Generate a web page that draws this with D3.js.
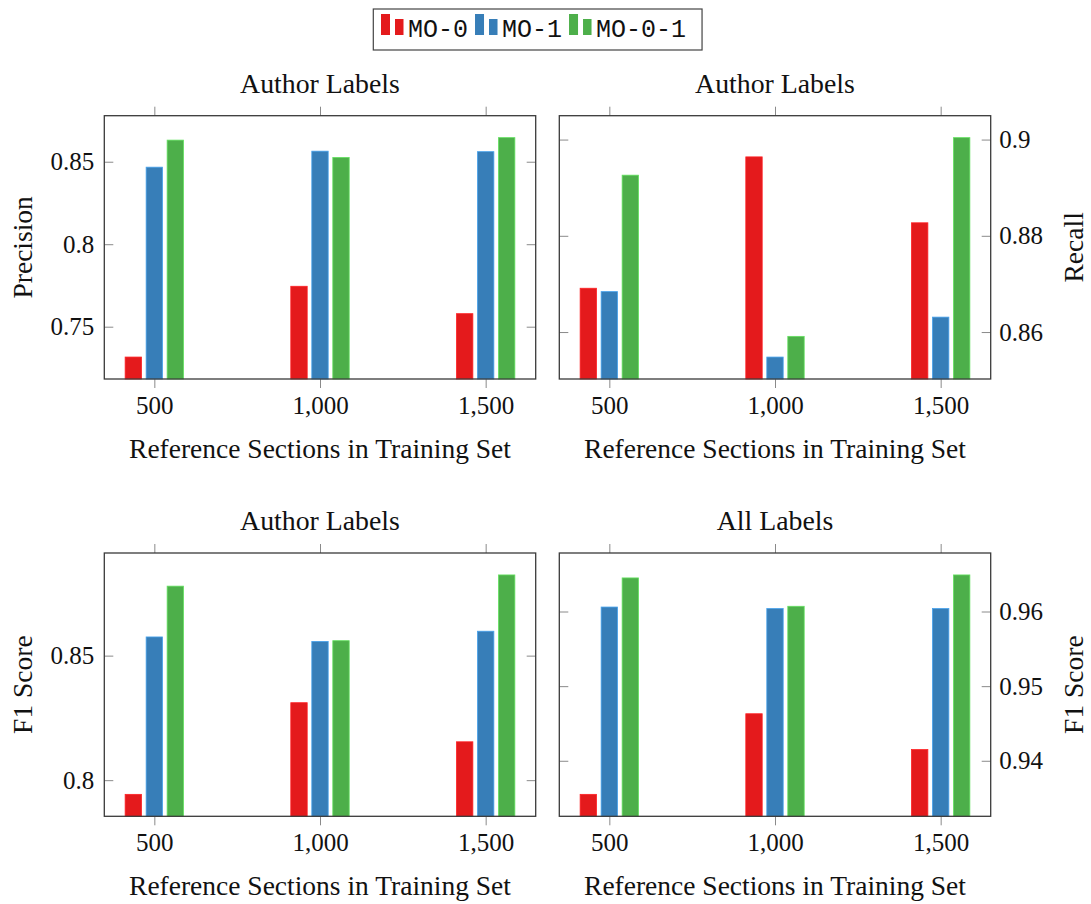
<!DOCTYPE html>
<html>
<head>
<meta charset="utf-8">
<script src="https://cdn.jsdelivr.net/npm/d3@7"></script>
<style>
  body { margin: 0; background: #fff; }
  svg text { font-family: "Liberation Serif", "Times New Roman", serif; fill: #111; }
  .mono { font-family: "Liberation Mono", "Courier New", monospace; }
</style>
</head>
<body>
<svg id="chart" width="1091" height="904"></svg>
<script>
// training set sizes (x categories) and series
const sizes = [500, 1000, 1500];
const seriesNames = ['MO-0', 'MO-1', 'MO-0-1'];
const seriesColors = ['#e41a1c', '#377eb8', '#4daf4a'];

// values per series, one entry per training size
const precisionAuthor = [
    [0.7316, 0.7745, 0.7579],
    [0.8467, 0.8564, 0.8561],
    [0.8631, 0.8526, 0.8646]
];
const recallAuthor = [
    [0.8691, 0.8964, 0.8827],
    [0.8684, 0.8548, 0.8631],
    [0.8926, 0.8591, 0.9004]
];
const f1Author = [
    [0.7943, 0.8311, 0.8154],
    [0.8575, 0.8557, 0.8598],
    [0.8779, 0.8560, 0.8824]
];
const f1All = [
    [0.9355, 0.9463, 0.9415],
    [0.9606, 0.9604, 0.9604],
    [0.9645, 0.9607, 0.9649]
];

// y tick values per panel
const precisionTicks = [0.75, 0.8, 0.85];
const recallTicks = [0.86, 0.88, 0.9];
const f1AuthorTicks = [0.8, 0.85];
const f1AllTicks = [0.94, 0.95, 0.96];

const panels = [
    { title: 'Author Labels', ylabel: 'Precision', side: 'left', values: precisionAuthor, ticks: precisionTicks, col: 0, row: 0 },
    { title: 'Author Labels', ylabel: 'Recall', side: 'right', values: recallAuthor, ticks: recallTicks, col: 1, row: 0 },
    { title: 'Author Labels', ylabel: 'F1 Score', side: 'left', values: f1Author, ticks: f1AuthorTicks, col: 0, row: 1 },
    { title: 'All Labels', ylabel: 'F1 Score', side: 'right', values: f1All, ticks: f1AllTicks, col: 1, row: 1 }
];

const svg = d3.select('#chart');

const colX = [104.3, 559.3];
const rowY = [115.7, 553];
const pw = 431.4;
const ph = 263.3;
const tickLen = 9;
const frameColor = '#3a3a3a';
const tickColor = '#8a8a8a';

const fmtX = d3.format(',');
const fmtY = v => String(+v.toFixed(3));

panels.forEach(p => {
    const g = svg.append('g')
        .attr('transform', `translate(${colX[p.col]},${rowY[p.row]})`);

    // x: linear over training size with padding like pgfplots
    const x = d3.scaleLinear()
        .domain([500 - 151, 1500 + 151])
        .range([0, pw]);

    // y: data extent enlarged by 10% on both sides
    const all = p.values.flat();
    const [lo, hi] = d3.extent(all);
    const pad = (hi - lo) * 0.1;
    const y = d3.scaleLinear()
        .domain([lo - pad, hi + pad])
        .range([ph, 0]);

    const inner = d3.scaleBand()
        .domain(seriesNames)
        .range([-31.5, 31.5])
        .paddingInner(0.22)
        .paddingOuter(0.11);

    // bars
    seriesNames.forEach((name, si) => {
        const c = seriesColors[si];
        g.selectAll(null)
            .data(sizes.map((s, i) => ({ s, v: p.values[si][i] })))
            .enter()
            .append('rect')
            .attr('x', d => x(d.s) + inner(name))
            .attr('width', inner.bandwidth())
            .attr('y', d => y(d.v))
            .attr('height', d => ph - y(d.v))
            .attr('fill', c)
            .attr('stroke', d3.color(c).brighter(0.7))
            .attr('stroke-width', 0.8);
    });

    // x ticks outside, top and bottom
    const xAxisB = g.append('g')
        .attr('transform', `translate(0,${ph})`)
        .call(d3.axisBottom(x).tickValues(sizes).tickFormat(fmtX).tickSize(tickLen).tickPadding(8));
    const xAxisT = g.append('g')
        .call(d3.axisTop(x).tickValues(sizes).tickFormat('').tickSize(tickLen));

    // y ticks inside on both sides
    const yAxisL = g.append('g')
        .call(d3.axisLeft(y).tickValues(p.ticks).tickSize(-tickLen)
            .tickFormat(p.side === 'left' ? fmtY : '').tickPadding(p.side === 'left' ? 10 : 0));
    const yAxisR = g.append('g')
        .attr('transform', `translate(${pw},0)`)
        .call(d3.axisRight(y).tickValues(p.ticks).tickSize(-tickLen)
            .tickFormat(p.side === 'right' ? fmtY : '').tickPadding(p.side === 'right' ? 8 : 0));

    [xAxisB, xAxisT, yAxisL, yAxisR].forEach(a => {
        a.select('.domain').remove();
        a.selectAll('line').attr('stroke', tickColor).attr('stroke-width', 1);
        a.selectAll('text')
            .attr('font-family', null)
            .style('font-family', '"Liberation Serif", serif')
            .style('font-size', '25px')
            .attr('fill', '#111');
    });
    yAxisL.selectAll('text').attr('x', -10);
    yAxisR.selectAll('text').attr('x', 8.5);

    // frame
    g.append('rect')
        .attr('width', pw)
        .attr('height', ph)
        .attr('fill', 'none')
        .attr('stroke', frameColor)
        .attr('stroke-width', 1.3);

    // title
    g.append('text')
        .attr('x', pw / 2)
        .attr('y', -23)
        .attr('text-anchor', 'middle')
        .style('font-size', '27.8px')
        .text(p.title);

    // x label
    g.append('text')
        .attr('x', pw / 2)
        .attr('y', ph + 79)
        .attr('text-anchor', 'middle')
        .style('font-size', '27.5px')
        .text('Reference Sections in Training Set');

    // y label
    const lx = p.side === 'left' ? 22 - colX[p.col] : 1073 - colX[p.col];
    g.append('text')
        .attr('transform', `translate(${lx},${ph / 2}) rotate(-90)`)
        .attr('text-anchor', 'middle')
        .attr('dominant-baseline', 'central')
        .style('font-size', '27.5px')
        .text(p.ylabel);
});

// legend
const legend = svg.append('g');
const box = legend.append('rect')
    .attr('x', 373.3)
    .attr('y', 9)
    .attr('height', 41)
    .attr('fill', '#fff')
    .attr('stroke', '#444')
    .attr('stroke-width', 1.2);

let lxPos = 381;
seriesNames.forEach((name, i) => {
    const c = seriesColors[i];
    legend.append('rect')
        .attr('x', lxPos).attr('y', 14).attr('width', 9).attr('height', 21)
        .attr('fill', c);
    legend.append('rect')
        .attr('x', lxPos + 14).attr('y', 19).attr('width', 8.5).attr('height', 16)
        .attr('fill', c);
    const t = legend.append('text')
        .attr('class', 'mono')
        .attr('x', lxPos + 27)
        .attr('y', 37)
        .style('font-size', '25px')
        .text(name);
    lxPos += 27 + t.node().getComputedTextLength() + 7;
});
box.attr('width', lxPos - 7 + 16 - 373.3);
</script>
</body>
</html>
